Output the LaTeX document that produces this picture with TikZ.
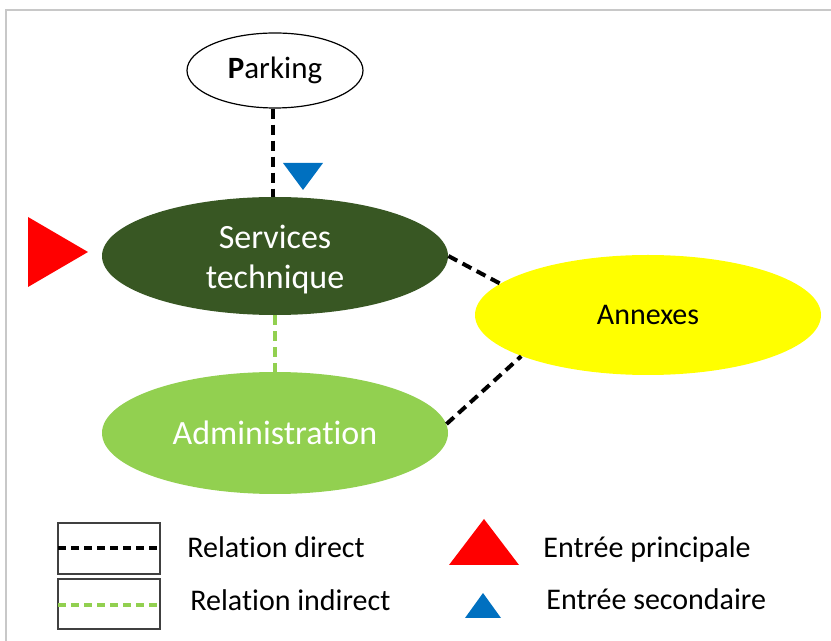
\documentclass[tikz,border=0pt]{standalone}
\usepackage{fontspec}
\setmainfont{Carlito}[Ligatures=NoCommon]
\usetikzlibrary{shapes.geometric,positioning}
\definecolor{stdark}{HTML}{385723}
\definecolor{stlight}{HTML}{92D050}
\definecolor{styellow}{HTML}{FFFF00}
\definecolor{stblue}{HTML}{0070C0}
\definecolor{stred}{HTML}{FF0000}
\definecolor{stframe}{HTML}{C8C8C8}

\begin{document}
\begin{tikzpicture}[x=0.5pt, y=-0.5pt,
  zone/.style={ellipse, inner sep=0pt, minimum width=173pt,
               minimum height=60pt, align=center},
  directrel/.style={draw=black, line width=2pt, dash pattern=on 5pt off 3pt},
  indirectrel/.style={draw=stlight, line width=2pt, dash pattern=on 5pt off 3pt},
  legtext/.style={anchor=base west, inner sep=0pt,
                  font=\fontsize{15}{18}\selectfont}]

\useasboundingbox (0,0) rectangle (831,641);
\draw[stframe, line width=1pt] (6,660) -- (6,10) -- (850,10);

% zones
\node[zone, draw=black, line width=0.6pt, minimum width=88pt,
      minimum height=37.5pt, font=\fontsize{15.5}{18}\selectfont]
  (parking) at (275,70.5) {\textbf{P}arking};
\node[zone, fill=stdark, text=white, minimum height=59pt,
      font=\fontsize{17}{20}\selectfont]
  (services) at (275,256) {\rule{0pt}{15pt}Services\\technique};
\node[zone, fill=stlight, text=white, minimum height=61pt,
      font=\fontsize{17}{20}\selectfont]
  (admin) at (275,433) {Administration};
\node[zone, fill=styellow, font=\fontsize{15}{18}\selectfont]
  (annexes) at (648,315) {Annexes};

% relations
\draw[directrel] ([xshift=-1pt]parking.south) -- ([xshift=-1pt]services.north);
\draw[indirectrel] (services.south) -- (admin.north);
\draw[directrel] (services.east) -- (annexes.168);
\draw[directrel] (admin.3) -- (annexes.198);

% entrances
\fill[stred] (28,217) -- (88,252) -- (28,287) -- cycle;
\fill[stblue] (283,163) -- (323,163) -- (303,190) -- cycle;

% legend
\draw[black!75, line width=0.6pt] (58,523) rectangle (160,574);
\draw[black!75, line width=0.6pt] (58,579) rectangle (160,629);
\draw[directrel, dash pattern=on 4pt off 2.5pt] (58,548) -- (160,548);
\draw[indirectrel, dash pattern=on 4pt off 2.5pt] (58,605) -- (160,605);
\node[legtext] (legdirect) at (187,558) {Relation direct};
\node[legtext] (legindirect) at (190,611) {Relation indirect};
\fill[stred] (449,565) -- (484,519) -- (519,565) -- cycle;
\fill[stblue] (465,618) -- (483,593) -- (501,618) -- cycle;
\node[legtext] (legmain) at (543,558) {Entrée principale};
\node[legtext] (legsecond) at (546,610) {Entrée secondaire};
\end{tikzpicture}
\end{document}
